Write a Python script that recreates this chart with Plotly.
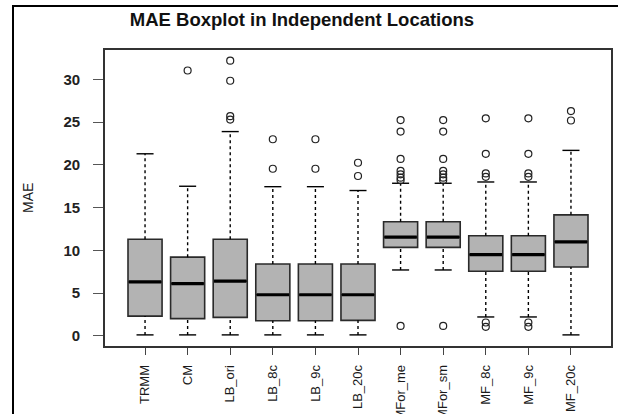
import plotly.graph_objects as go

categories = ["TRMM", "CM", "LB_ori", "LB_8c", "LB_9c", "LB_20c",
              "MFor_me", "MFor_sm", "MF_8c", "MF_9c", "MF_20c"]
lower_whisker = [0.1, 0.1, 0.1, 0.1, 0.1, 0.1, 7.7, 7.7, 2.2, 2.2, 0.1]
q1 = [2.3, 2.0, 2.15, 1.75, 1.75, 1.8, 10.35, 10.35, 7.55, 7.55, 8.05]
median = [6.3, 6.1, 6.4, 4.8, 4.8, 4.8, 11.55, 11.55, 9.5, 9.5, 11.0]
q3 = [11.3, 9.2, 11.3, 8.4, 8.4, 8.4, 13.35, 13.35, 11.7, 11.7, 14.15]
upper_whisker = [21.3, 17.5, 23.9, 17.45, 17.45, 17.0, 17.85, 17.85, 18.0, 18.0, 21.7]

outlier_cat = (["CM"] + ["LB_ori"] * 4 + ["LB_8c"] * 2 + ["LB_9c"] * 2 + ["LB_20c"] * 2
               + ["MFor_me"] * 8 + ["MFor_sm"] * 8 + ["MF_8c"] * 6 + ["MF_9c"] * 6
               + ["MF_20c"] * 2)
outlier_val = ([31.05] + [32.2, 29.85, 25.7, 25.3] + [23.0, 19.55] + [23.0, 19.55]
               + [20.25, 18.7]
               + [25.25, 23.9, 20.7, 19.3, 18.9, 18.5, 18.2, 1.15]
               + [25.25, 23.9, 20.7, 19.3, 18.9, 18.5, 18.2, 1.15]
               + [25.45, 21.3, 19.0, 18.6, 1.55, 1.05]
               + [25.45, 21.3, 19.0, 18.6, 1.55, 1.05]
               + [26.3, 25.2])

y_ticks = [0, 5, 10, 15, 20, 25, 30]

pos = list(range(1, len(categories) + 1))
pos_of = {c: p for c, p in zip(categories, pos)}
BOXW = 0.8
CAPW = 0.2

fig = go.Figure()

# dashed whiskers
wx, wy = [], []
for p, lo, a, b, hi in zip(pos, lower_whisker, q1, q3, upper_whisker):
    wx += [p, p, None, p, p, None]
    wy += [lo, a, None, b, hi, None]
fig.add_trace(go.Scatter(x=wx, y=wy, mode="lines",
                         line=dict(color="black", width=1.4, dash="3px,3px"),
                         hoverinfo="skip", showlegend=False))
# caps
cx, cy = [], []
for p, lo, hi in zip(pos, lower_whisker, upper_whisker):
    cx += [p - CAPW, p + CAPW, None, p - CAPW, p + CAPW, None]
    cy += [lo, lo, None, hi, hi, None]
fig.add_trace(go.Scatter(x=cx, y=cy, mode="lines",
                         line=dict(color="black", width=1.4),
                         hoverinfo="skip", showlegend=False))

# boxes
fig.add_trace(go.Box(x=pos, q1=q1, median=median, q3=q3,
                     lowerfence=q1, upperfence=q3, width=BOXW,
                     fillcolor="#b3b3b3", line=dict(color="#2a2a2a", width=1.6),
                     whiskerwidth=0, boxpoints=False, hoverinfo="skip",
                     showlegend=False))

# thick medians
mx, my = [], []
for p, m in zip(pos, median):
    mx += [p - BOXW / 2 + 0.02, p + BOXW / 2 - 0.02, None]
    my += [m, m, None]
fig.add_trace(go.Scatter(x=mx, y=my, mode="lines",
                         line=dict(color="black", width=3.2),
                         hoverinfo="skip", showlegend=False))

# outliers
fig.add_trace(go.Scatter(x=[pos_of[c] for c in outlier_cat], y=outlier_val,
                         mode="markers",
                         marker=dict(symbol="circle-open", size=7,
                                     color="#222", line=dict(width=1.2)),
                         hoverinfo="skip", showlegend=False))

L, R, T, B = 105, 7, 50, 68
W, H = 618, 414
pw, ph = W - L - R, H - T - B

fig.update_layout(
    width=W, height=H,
    margin=dict(l=L, r=R, t=T, b=B),
    paper_bgcolor="white", plot_bgcolor="white",
    font=dict(family="Liberation Sans, Arial, sans-serif", size=13, color="#222"),
    title=dict(text="<b>MAE Boxplot in Independent Locations</b>",
               x=302 / W, xanchor="center", xref="container",
               y=1 - 20 / H, yanchor="middle", yref="container",
               font=dict(size=18.5, color="#111")),
    xaxis=dict(range=[0.06, 11.94], tickmode="array", tickvals=pos,
               ticktext=categories, tickangle=-90, ticks="outside", ticklen=7,
               tickcolor="#444", tickwidth=1.2, showgrid=False, zeroline=False,
               showline=True, mirror=True, linecolor="#333", linewidth=1.6,
               ticklabelstandoff=5, automargin=False,
               tickfont=dict(size=13, color="#1a1a1a")),
    yaxis=dict(range=[-1.2, 33.45], tickmode="array", tickvals=y_ticks,
               ticks="outside", ticklen=10, tickcolor="#555", tickwidth=1.2,
               showgrid=False, zeroline=False, showline=True, mirror=True,
               linecolor="#333", linewidth=1.6, ticklabelstandoff=10,
               automargin=False,
               tickfont=dict(size=15, color="#222", weight="bold")),
    annotations=[dict(text="MAE", textangle=-90, x=(28 - L) / pw, y=0.5,
                      xref="paper", yref="paper", showarrow=False,
                      xanchor="center", yanchor="middle",
                      font=dict(size=14, color="#222"))],
    shapes=[dict(type="rect", xref="paper", yref="paper",
                 x0=(13 - L) / pw, x1=(W + 20 - L) / pw,
                 y0=-(B + 20) / ph, y1=1 + (T - 6) / ph,
                 line=dict(color="black", width=2), fillcolor="rgba(0,0,0,0)",
                 layer="below")],
)

fig.write_html("out.html", config={"displayModeBar": False},
               post_script="document.body.style.margin='0';document.body.style.overflow='hidden';")
